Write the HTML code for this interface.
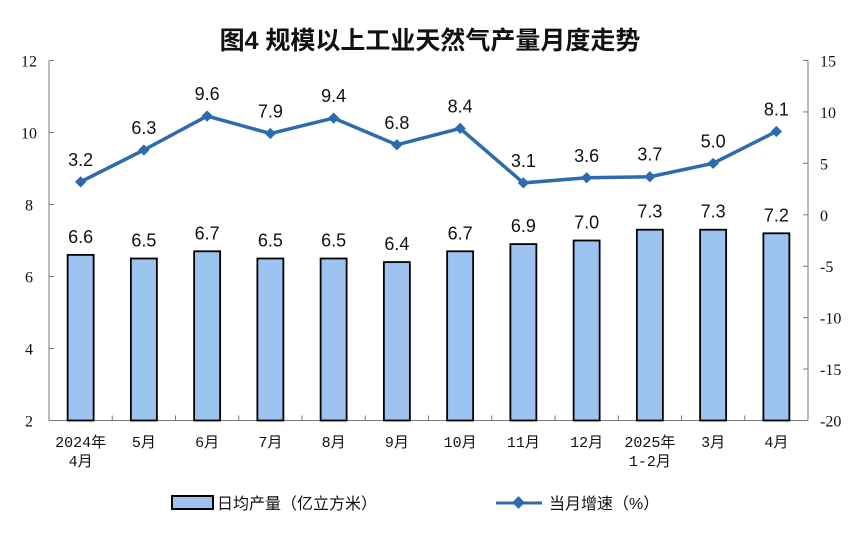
<!DOCTYPE html>
<html><head><meta charset="utf-8"><style>
body{margin:0;background:#fff;width:865px;height:542px;overflow:hidden}
</style></head><body>
<svg id="c" width="865" height="542" xmlns="http://www.w3.org/2000/svg">
<text x="430" y="49" text-anchor="middle" font-family="'Liberation Sans','Noto Sans CJK SC',sans-serif" font-size="25" font-weight="bold" fill="#111">图4  规模以上工业天然气产量月度走势</text>
<g id="g"></g>
<g>
<rect x="172" y="496" width="41" height="13" fill="#9DC3F0" stroke="#000" stroke-width="2"/>
<text x="217" y="509" font-family="'Liberation Sans','Noto Sans CJK SC',sans-serif" font-size="16" fill="#111">日均产量（亿立方米）</text>
<line x1="496" y1="503" x2="542" y2="503" stroke="#2E6BAD" stroke-width="3"/>
<rect x="514" y="498" width="9" height="9" fill="#2E6BAD" transform="rotate(45 518.5 502.5)"/>
<text x="549" y="509" font-family="'Liberation Sans','Noto Sans CJK SC',sans-serif" font-size="16" fill="#111">当月增速（%）</text>
</g>
</svg>
<script>
const categories=["2024年|4月","5月","6月","7月","8月","9月","10月","11月","12月","2025年|1-2月","3月","4月"];
const output=[6.6,6.5,6.7,6.5,6.5,6.4,6.7,6.9,7.0,7.3,7.3,7.2];
const growth=[3.2,6.3,9.6,7.9,9.4,6.8,8.4,3.1,3.6,3.7,5.0,8.1];
const leftTicks=[2,4,6,8,10,12];
const rightTicks=[-20,-15,-10,-5,0,5,10,15];
const NS="http://www.w3.org/2000/svg";
const g=document.getElementById('g');
const X0=49,X1=808,Y0=420.5,Y1=60.5;
const step=(X1-X0)/categories.length;
const xc=i=>X0+step*(i+0.5);
const yl=v=>Y0-(v-2)/10*(Y0-Y1);
const yr=v=>Y0-(v+20)/35*(Y0-Y1);
function mk(t,a,txt){const e=document.createElementNS(NS,t);for(const k in a)e.setAttribute(k,a[k]);if(txt!==undefined)e.textContent=txt;g.appendChild(e);return e;}
const serif="'Liberation Serif',serif", sans="'Liberation Sans',sans-serif", cat="'Liberation Mono','Noto Sans CJK SC',monospace";
let e;
e=mk('line',{x1:X0,y1:Y1,x2:X0,y2:Y0,stroke:'#777','stroke-width':1});

e=mk('line',{x1:X1,y1:Y1,x2:X1,y2:Y0,stroke:'#777','stroke-width':1});

e=mk('line',{x1:X0,y1:Y0,x2:X1,y2:Y0,stroke:'#777','stroke-width':1});

leftTicks.forEach(v=>{mk('line',{x1:X0,y1:yl(v),x2:X0+5,y2:yl(v),stroke:'#777'});
e=mk('text',{x:X0-20,y:yl(v)+6,'text-anchor':'middle','font-family':serif,'font-size':16,fill:'#111'},String(v));
});
rightTicks.forEach(v=>{mk('line',{x1:X1-5,y1:yr(v),x2:X1,y2:yr(v),stroke:'#777'});
e=mk('text',{x:X1+12,y:yr(v)+6,'font-family':serif,'font-size':16,fill:'#111'},String(v));
});
for(let i=1;i<categories.length;i++)mk('line',{x1:X0+step*i,y1:Y0,x2:X0+step*i,y2:Y0-5,stroke:'#777'});
categories.forEach((c,i)=>{const parts=c.split('|');parts.forEach((p,j)=>{
e=mk('text',{x:xc(i),y:447+j*19,'text-anchor':'middle','font-family':cat,'font-size':15,fill:'#111'},p);
});});
output.forEach((v,i)=>{
e=mk('rect',{x:xc(i)-13,y:yl(v),width:26,height:Y0-yl(v),fill:'#9DC3F0',stroke:'#000','stroke-width':1.8});

e=mk('text',{x:xc(i),y:yl(v)-12,'text-anchor':'middle','font-family':sans,'font-size':18,fill:'#111'},v.toFixed(1));
});
e=mk('polyline',{points:growth.map((v,i)=>xc(i)+','+yr(v)).join(' '),fill:'none',stroke:'#2E6BAD','stroke-width':3.5});

growth.forEach((v,i)=>{
e=mk('rect',{x:xc(i)-4,y:yr(v)-4,width:8,height:8,fill:'#2E6BAD',transform:`rotate(45 ${xc(i)} ${yr(v)})`});

e=mk('text',{x:xc(i),y:yr(v)-16,'text-anchor':'middle','font-family':sans,'font-size':18,fill:'#111'},v.toFixed(1));
});
</script>
</body></html>
